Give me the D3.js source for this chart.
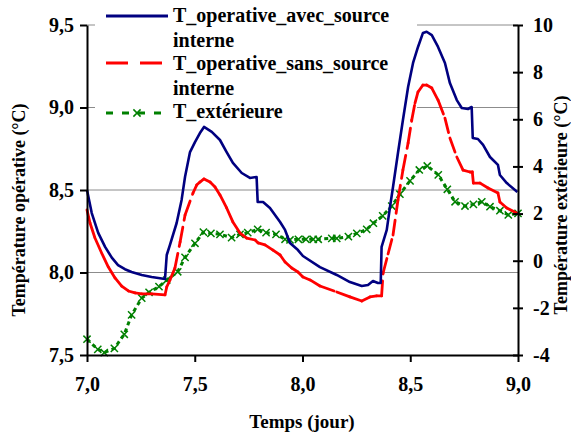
<!DOCTYPE html>
<html><head><meta charset="utf-8">
<script src="https://cdn.jsdelivr.net/npm/d3@7"></script>
<style>
body{margin:0;background:#fff}
text{font-family:"Liberation Serif","Times New Roman",serif;font-weight:bold;fill:#000}
</style></head>
<body><svg id="chart" width="571" height="436"></svg>
<script>
// ---- data ----
const avecTime = [7.000,7.022,7.052,7.084,7.115,7.144,7.176,7.207,7.254,7.300,7.362,7.370,7.385,7.416,7.439,7.455,7.478,7.501,7.524,7.543,7.579,7.617,7.648,7.677,7.718,7.756,7.787,7.792,7.817,7.849,7.896,7.919,7.942,7.979,8.002,8.081,8.159,8.220,8.275,8.304,8.327,8.350,8.363,8.367,8.391,8.406,8.420,8.443,8.466,8.490,8.513,8.536,8.559,8.576,8.600,8.629,8.661,8.684,8.716,8.739,8.768,8.785,8.790,8.814,8.838,8.870,8.907,8.916,8.948,8.997];
const avecTemp = [8.50,8.36,8.24,8.155,8.09,8.045,8.02,8.003,7.985,7.973,7.961,8.106,8.167,8.30,8.44,8.58,8.73,8.79,8.845,8.882,8.852,8.803,8.73,8.664,8.603,8.573,8.579,8.427,8.427,8.391,8.306,8.258,8.179,8.136,8.10,8.033,7.985,7.942,7.918,7.924,7.948,7.936,7.936,8.155,8.258,8.397,8.518,8.724,8.924,9.124,9.27,9.367,9.452,9.459,9.439,9.367,9.27,9.148,9.045,8.997,8.991,9.003,8.815,8.809,8.773,8.70,8.652,8.591,8.542,8.488];

const sansTime = [7.000,7.014,7.037,7.068,7.099,7.130,7.161,7.192,7.223,7.254,7.300,7.362,7.370,7.385,7.408,7.432,7.455,7.492,7.509,7.524,7.543,7.571,7.594,7.617,7.648,7.677,7.710,7.741,7.780,7.794,7.826,7.863,7.896,7.919,7.950,7.979,8.002,8.035,8.081,8.159,8.220,8.275,8.313,8.344,8.367,8.374,8.397,8.420,8.443,8.466,8.490,8.507,8.522,8.536,8.559,8.576,8.600,8.629,8.661,8.684,8.716,8.745,8.777,8.788,8.793,8.824,8.861,8.907,8.916,8.948,8.994];
const sansTemp = [8.379,8.300,8.209,8.118,8.033,7.967,7.918,7.888,7.876,7.870,7.870,7.864,7.912,7.955,8.027,8.185,8.348,8.482,8.530,8.548,8.567,8.548,8.518,8.470,8.391,8.306,8.239,8.209,8.197,8.179,8.167,8.136,8.106,8.064,8.027,8.003,7.973,7.955,7.918,7.882,7.852,7.827,7.852,7.858,7.858,7.997,8.112,8.227,8.439,8.621,8.785,8.924,9.027,9.094,9.136,9.136,9.118,9.045,8.936,8.815,8.700,8.621,8.609,8.609,8.542,8.542,8.512,8.482,8.427,8.391,8.361];

const extTime = [7.000,7.050,7.080,7.127,7.173,7.207,7.254,7.288,7.334,7.370,7.421,7.455,7.501,7.540,7.575,7.617,7.671,7.710,7.746,7.792,7.831,7.877,7.919,7.942,7.981,8.016,8.050,8.073,8.136,8.159,8.213,8.252,8.298,8.329,8.372,8.414,8.452,8.499,8.542,8.579,8.630,8.672,8.708,8.754,8.793,8.832,8.870,8.916,8.955,9.000];
const extTemp = [-3.33,-3.76,-3.90,-3.72,-3.12,-2.30,-1.59,-1.34,-1.10,-0.82,-0.47,0.14,0.74,1.21,1.16,1.12,0.98,1.12,1.19,1.33,1.19,1.12,0.91,0.88,0.91,0.91,0.91,0.91,0.95,0.95,1.02,1.16,1.33,1.59,1.90,2.32,2.82,3.39,3.85,4.02,3.64,3.03,2.50,2.32,2.39,2.50,2.29,2.12,1.94,2.01];

const xTicks = [7.0,7.5,8.0,8.5,9.0];
const leftTicks = [7.5,8.0,8.5,9.0,9.5];
const rightTicks = [-4,-2,0,2,4,6,8,10];
const seriesNames = [["T_operative_avec_source","interne"],["T_operative_sans_source","interne"],["T_extérieure"]];
const xTitle = "Temps (jour)";
const leftTitle = "Température opérative (°C)";
const rightTitle = "Température extérieure (°C)";

// ---- layout ----
const svg = d3.select("#chart");
const L = 87, R = 518, T = 25, B = 355;
const x = d3.scaleLinear().domain([7,9]).range([L,R]);
const yL = d3.scaleLinear().domain([7.5,9.5]).range([B,T]);
const yR = d3.scaleLinear().domain([-4,10]).range([B,T]);
const comma = d => d.toFixed(1).replace(".", ",");

// gridlines
svg.append("g").selectAll("line").data(leftTicks.filter(d => d > 7.5)).join("line")
  .attr("x1", L).attr("x2", R).attr("y1", d => yL(d)).attr("y2", d => yL(d))
  .attr("stroke", "#8c8c8c").attr("stroke-width", 1);

// legend background (covers gridlines, lies under the series)
svg.append("rect").attr("x", 95).attr("y", 0).attr("width", 322).attr("height", 124).attr("fill", "#fff");

// exterior (right axis)
const extData = d3.zip(extTime, extTemp);
svg.append("path").datum(extData)
  .attr("d", d3.line().x(d => x(d[0])).y(d => yR(d[1])))
  .attr("fill", "none").attr("stroke", "#008000").attr("stroke-width", 3)
  .attr("stroke-dasharray", "4,3.5");
const mk = 3.6;
svg.append("g").selectAll("path").data(extData).join("path")
  .attr("d", d => `M${x(d[0])-mk},${yR(d[1])-mk}L${x(d[0])+mk},${yR(d[1])+mk}M${x(d[0])-mk},${yR(d[1])+mk}L${x(d[0])+mk},${yR(d[1])-mk}`)
  .attr("stroke", "#008000").attr("stroke-width", 1.5).attr("fill", "none");

// sans source (dashed, red) drawn segment by segment
const sansData = d3.zip(sansTime, sansTemp);
const segLine = d3.line().x(d => x(d[0])).y(d => yL(d[1]));
svg.append("g").selectAll("path").data(d3.pairs(sansData)).join("path")
  .attr("d", d => segLine(d))
  .attr("fill", "none").attr("stroke", "#ff0000").attr("stroke-width", 2.8)
  .attr("stroke-linecap", "round").attr("stroke-dasharray", "15,7");

// avec source (solid, navy)
svg.append("path").datum(d3.zip(avecTime, avecTemp))
  .attr("d", d3.line().x(d => x(d[0])).y(d => yL(d[1])))
  .attr("fill", "none").attr("stroke", "#000080").attr("stroke-width", 2.6)
  .attr("stroke-linejoin", "round");

// axes
const gx = svg.append("g").attr("transform", `translate(0,${B})`)
  .call(d3.axisBottom(x).tickValues(xTicks).tickFormat(comma).tickSize(7).tickSizeOuter(0));
gx.selectAll("text").attr("y", 36).attr("dy", null);
const gl = svg.append("g").attr("transform", `translate(${L},0)`)
  .call(d3.axisLeft(yL).tickValues(leftTicks).tickFormat(comma).tickSize(7).tickSizeOuter(0).tickPadding(6));
const gr = svg.append("g").attr("transform", `translate(${R},0)`)
  .call(d3.axisRight(yR).tickValues(rightTicks).tickFormat(d => d).tickSize(5).tickSizeOuter(0).tickPadding(10));
gr.selectAll(".tick line").attr("x1", -5).attr("x2", 5);
[gx, gl, gr].forEach(g => {
  g.select(".domain").attr("stroke", "#000").attr("stroke-width", 2);
  g.selectAll(".tick line").attr("stroke", "#000").attr("stroke-width", 2);
  g.selectAll("text").attr("font-size", 20)
    .style("font-family", "'Liberation Serif', serif").style("font-weight", "bold").attr("fill", "#000");
});

// titles
svg.append("text").attr("x", 302).attr("y", 428).attr("text-anchor", "middle").attr("font-size", 19).text(xTitle);
svg.append("text").attr("transform", "translate(25,210) rotate(-90)").attr("text-anchor", "middle").attr("font-size", 18).text(leftTitle);
svg.append("text").attr("transform", "translate(567,205) rotate(-90)").attr("text-anchor", "middle").attr("font-size", 18).text(rightTitle);

// legend
const lg = svg.append("g");
const symY = [16, 63, 113];
lg.append("line").attr("x1", 106).attr("x2", 168).attr("y1", symY[0]).attr("y2", symY[0])
  .attr("stroke", "#000080").attr("stroke-width", 2.8);
lg.append("line").attr("x1", 106).attr("x2", 168).attr("y1", symY[1]).attr("y2", symY[1])
  .attr("stroke", "#ff0000").attr("stroke-width", 3).attr("stroke-dasharray", "22,12");
lg.append("line").attr("x1", 106).attr("x2", 168).attr("y1", symY[2]).attr("y2", symY[2])
  .attr("stroke", "#008000").attr("stroke-width", 3).attr("stroke-dasharray", "7,9");
lg.append("path").attr("d", `M${137-mk},${symY[2]-mk}L${137+mk},${symY[2]+mk}M${137-mk},${symY[2]+mk}L${137+mk},${symY[2]-mk}`)
  .attr("stroke", "#008000").attr("stroke-width", 1.5);
const baselines = [[22, 46.5], [70, 94.5], [118]];
seriesNames.forEach((lines, i) => {
  lines.forEach((s, j) => {
    lg.append("text").attr("x", 173).attr("y", baselines[i][j]).attr("font-size", 20).text(s);
  });
});
</script>
</body></html>
